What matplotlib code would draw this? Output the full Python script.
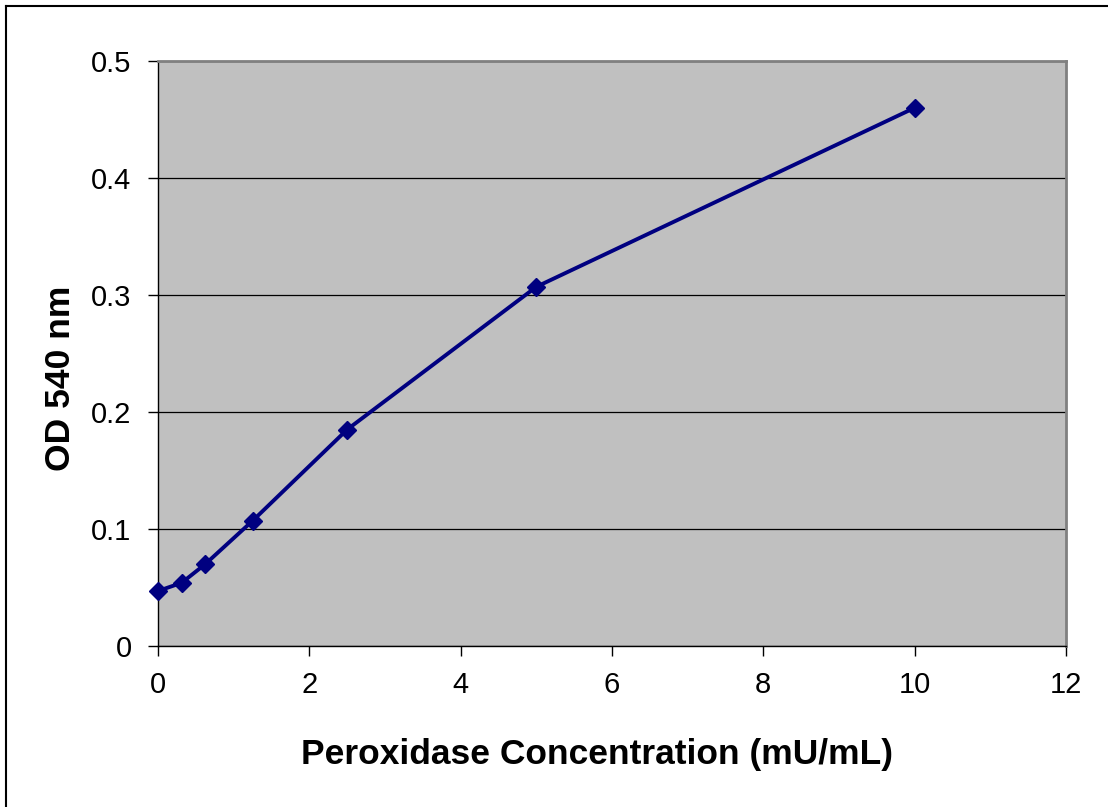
import matplotlib.pyplot as plt
from matplotlib.lines import Line2D

plt.rcParams['font.family'] = ['Liberation Sans', 'DejaVu Sans']

# peroxidase standard curve
conc = [0, 0.3125, 0.625, 1.25, 2.5, 5, 10]
od540 = [0.047, 0.054, 0.070, 0.107, 0.185, 0.307, 0.460]

fig = plt.figure(figsize=(11.08, 8.07), dpi=100)
ax = fig.add_axes([158/1108, 1 - 646/807, 908/1108, 585/807])
ax.set_facecolor('#c0c0c0')

ax.plot(conc, od540, color='#000080', lw=2.8, marker='D', ms=9.5,
        markerfacecolor='#000080', markeredgecolor='#000080', zorder=3, clip_on=False)

ax.set_xlim(0, 12)
ax.set_ylim(0, 0.5)
ax.set_xticks(range(0, 13, 2))
ax.set_yticks([0, 0.1, 0.2, 0.3, 0.4, 0.5])
ax.set_yticklabels(['0', '0.1', '0.2', '0.3', '0.4', '0.5'])
ax.yaxis.grid(True, color='black', lw=0.9)
ax.set_axisbelow(True)

ax.tick_params(direction='out', length=7, width=1, labelsize=21)
ax.tick_params(axis='x', pad=11)
ax.tick_params(axis='y', pad=12)
for s in ['top', 'right']:
    ax.spines[s].set_color('#808080')
    ax.spines[s].set_linewidth(2)
for s in ['left', 'bottom']:
    ax.spines[s].set_color('black')
    ax.spines[s].set_linewidth(1)

ax.set_xlabel('Peroxidase Concentration (mU/mL)', fontsize=25.5, fontweight='bold', labelpad=28)
ax.xaxis.label.set_x(0.4835)
ax.set_ylabel('OD 540 nm', fontsize=25.5, fontweight='bold', labelpad=10)
ax.yaxis.label.set_y(0.458)

# outer frame (left and top edges visible)
fig.add_artist(Line2D([6/1108, 6/1108], [0, 1 - 6/807], transform=fig.transFigure, color='black', lw=1.5))
fig.add_artist(Line2D([6/1108, 1], [1 - 6/807, 1 - 6/807], transform=fig.transFigure, color='black', lw=1.5))

fig.savefig('out.png', dpi=100)
